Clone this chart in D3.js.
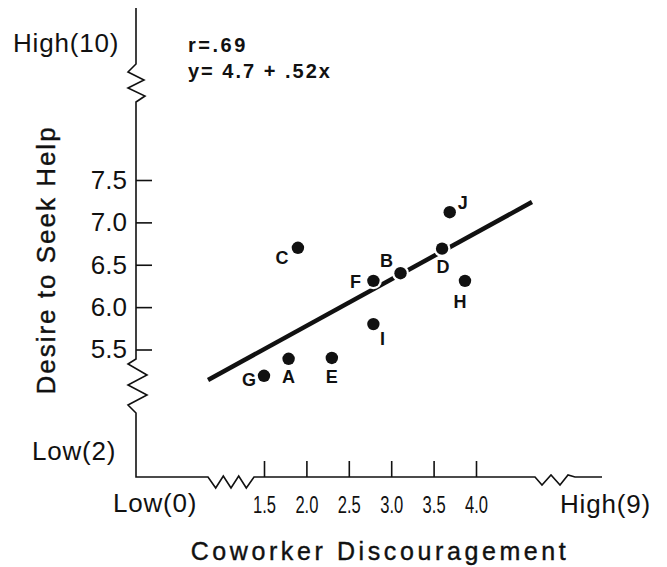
<!DOCTYPE html>
<html>
<head>
<meta charset="utf-8">
<script src="https://cdnjs.cloudflare.com/ajax/libs/d3/7.8.5/d3.min.js"></script>
<style>
  body { margin: 0; background: #fff; }
  svg text { font-family: "Liberation Sans", Arial, sans-serif; fill: #111; }
</style>
</head>
<body>
<div id="chart"></div>
<script>
// data
var names   = ["A", "B", "C", "D", "E", "F", "G", "H", "I", "J"];
var xValues = [1.79, 3.11, 1.90, 3.60, 2.30, 2.79, 1.50, 3.87, 2.79, 3.69];
var yValues = [5.39, 6.40, 6.70, 6.69, 5.40, 6.31, 5.19, 6.31, 5.80, 7.12];

var xTicks = [1.5, 2.0, 2.5, 3.0, 3.5, 4.0];
var yTicks = [5.5, 6.0, 6.5, 7.0, 7.5];

// fitted line as drawn
var lineX = [0.84, 4.66];
var lineY = [5.14, 7.24];

var statText = ["r=.69", "y= 4.7 + .52x"];

// where each point label sits relative to its dot
var labelOffset = {
    A: [0, 18], B: [-14, -13], C: [-16, 10], D: [1, 18], E: [0, 19],
    F: [-18, 1], G: [-15, 4], H: [-5, 21], I: [9, 14], J: [13, -10]
};

var width = 667, height = 567;
var originX = 136, originY = 477;

var svg = d3.select("#chart").append("svg")
    .attr("width", width)
    .attr("height", height);

var x = d3.scaleLinear().domain([1.5, 4.0]).range([264, 476]);
var y = d3.scaleLinear().domain([5.5, 7.5]).range([349.5, 180]);

// axis line with the break marks
var axisPts = [
    [136, 8], [136, 64], [128, 72], [144, 80], [128, 88], [145, 96], [136, 102],
    [136, 359], [128, 364], [147, 375], [128, 385], [147, 395], [128, 405], [136, 413],
    [136, originY], [208, originY],
    [215.7, 488], [223.3, 476], [231, 488], [238.7, 476], [246.3, 488], [254, originY],
    [535, originY], [542, 485], [551, 475], [560, 485], [568, 475], [575, originY],
    [602, originY]
];
svg.append("path")
    .attr("d", d3.line()(axisPts))
    .attr("fill", "none")
    .attr("stroke", "#111")
    .attr("stroke-width", 1.6)
    .attr("stroke-linejoin", "miter");

// y ticks point into the plot
var yAxis = svg.append("g")
    .attr("transform", "translate(" + originX + ",0)")
    .call(d3.axisLeft(y).tickValues(yTicks).tickSize(-16).tickPadding(9)
        .tickFormat(d3.format(".1f")));
yAxis.select(".domain").remove();
yAxis.selectAll("line").attr("stroke", "#111").attr("stroke-width", 1.6);
yAxis.selectAll("text")
    .attr("font-size", 26)
    .attr("font-family", "Liberation Sans, Arial, sans-serif")
    .attr("fill", "#111");

var xAxis = svg.append("g")
    .attr("transform", "translate(0," + originY + ")")
    .call(d3.axisBottom(x).tickValues(xTicks).tickSize(-16).tickPadding(0)
        .tickFormat(d3.format(".1f")));
xAxis.select(".domain").remove();
xAxis.selectAll("line").attr("stroke", "#111").attr("stroke-width", 1.6);
// condensed look of the printed x labels
xAxis.selectAll("text")
    .attr("font-size", 23)
    .attr("font-family", "Liberation Sans, Arial, sans-serif")
    .attr("fill", "#111")
    .attr("y", 0)
    .attr("dy", 0)
    .attr("transform", "translate(0,36) scale(0.72,1)");

// end labels of the broken scales
var endLabels = svg.append("g").attr("font-size", 26).attr("letter-spacing", 0.8);
endLabels.append("text").attr("x", 13).attr("y", 52).text("High(10)");
endLabels.append("text").attr("x", 32).attr("y", 460).text("Low(2)");
endLabels.append("text").attr("x", 113).attr("y", 512).text("Low(0)");
endLabels.append("text").attr("x", 560).attr("y", 513).text("High(9)");

// axis titles
svg.append("text")
    .attr("x", 380).attr("y", 560)
    .attr("text-anchor", "middle")
    .attr("font-size", 25)
    .attr("letter-spacing", 3.6)
    .attr("stroke", "#111").attr("stroke-width", 0.4)
    .text("Coworker Discouragement");

svg.append("text")
    .attr("transform", "translate(55,260) rotate(-90)")
    .attr("text-anchor", "middle")
    .attr("font-size", 26)
    .attr("letter-spacing", 2)
    .attr("stroke", "#111").attr("stroke-width", 0.4)
    .text("Desire to Seek Help");

// r and the equation
svg.selectAll(".stat")
    .data(statText)
    .enter().append("text")
    .attr("class", "stat")
    .attr("x", 188)
    .attr("y", function(d, i){ return 52 + i * 26; })
    .attr("font-size", 20)
    .attr("font-weight", "bold")
    .attr("letter-spacing", function(d, i){ return i == 0 ? 2.5 : 2; })
    .text(function(d){ return d; });

// regression line
svg.append("line")
    .attr("x1", x(lineX[0])).attr("y1", y(lineY[0]))
    .attr("x2", x(lineX[1])).attr("y2", y(lineY[1]))
    .attr("stroke", "#111")
    .attr("stroke-width", 4.5);

var points = names.map(function(n, i){
    return {name: n, x: xValues[i], y: yValues[i]};
});

// white halo around each dot cuts the line
svg.selectAll(".halo")
    .data(points)
    .enter().append("circle")
    .attr("class", "halo")
    .attr("cx", function(d){ return x(d.x); })
    .attr("cy", function(d){ return y(d.y); })
    .attr("r", 8.5)
    .attr("fill", "#fff");

svg.selectAll(".dot")
    .data(points)
    .enter().append("circle")
    .attr("class", "dot")
    .attr("cx", function(d){ return x(d.x); })
    .attr("cy", function(d){ return y(d.y); })
    .attr("r", 6.2)
    .attr("fill", "#111");

svg.selectAll(".lbl")
    .data(points)
    .enter().append("text")
    .attr("class", "lbl")
    .attr("x", function(d){ return x(d.x) + labelOffset[d.name][0]; })
    .attr("y", function(d){ return y(d.y) + labelOffset[d.name][1]; })
    .attr("dy", "0.36em")
    .attr("text-anchor", "middle")
    .attr("font-size", 18)
    .attr("font-weight", "bold")
    .text(function(d){ return d.name; });
</script>
</body>
</html>
